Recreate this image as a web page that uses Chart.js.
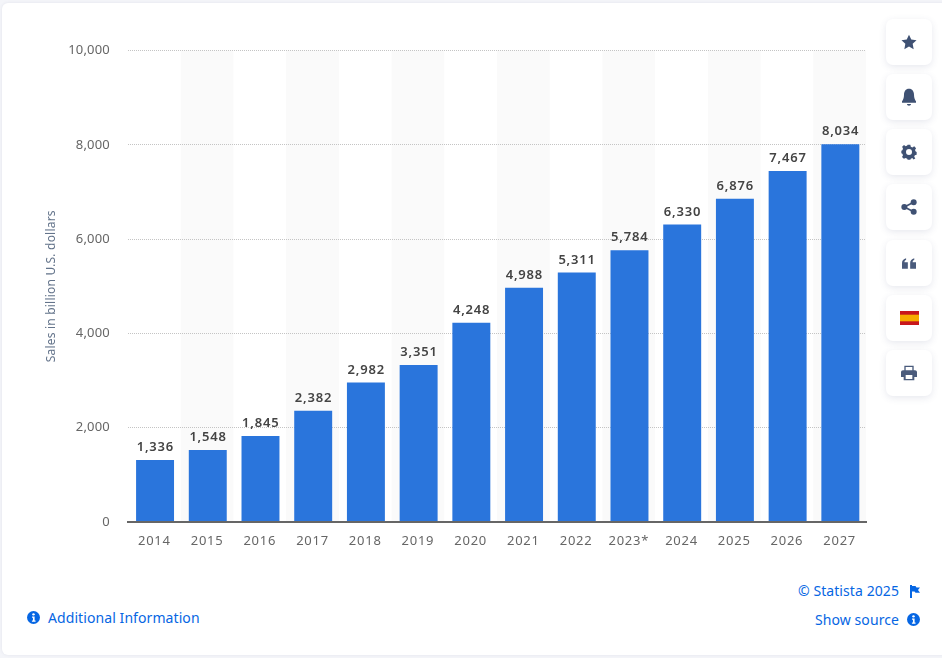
<!DOCTYPE html>
<html><head><meta charset="utf-8">
<script src="https://cdn.jsdelivr.net/npm/chart.js@4"></script>
<style>
html,body{margin:0;padding:0;width:942px;height:658px;overflow:hidden;background:#f4f5f9;font-family:"Noto Sans","Open Sans",sans-serif}
#card{position:absolute;left:2px;top:3px;width:960px;height:652px;background:#fff;border-radius:6px;box-shadow:0 0 3px rgba(100,110,140,.12)}
#wrap{position:absolute;left:0;top:0;width:880px;height:570px}
.btn{position:absolute;left:886px;width:46px;height:46px;background:#fff;border-radius:7px;box-shadow:0 2px 7px rgba(70,80,120,.13);display:flex;align-items:center;justify-content:center}
.btn svg{display:block}
.lnk{position:absolute;color:#0666e3;font-size:14px;line-height:20px;letter-spacing:.08px;white-space:nowrap}
.ic{position:absolute}
</style></head><body>
<div id="card"></div>
<div id="wrap"><canvas id="c" width="880" height="570"></canvas></div>
<div class="btn" style="top:19px"><svg width="16" height="16" viewBox="0 0 24 24"><path fill="#3f5173" d="M12 1l3.400 7.300 7.900 1-5.800 5.500 1.500 7.900L12 18.800l-7 3.900 1.500-7.900L.7 9.300l7.900-1z"/></svg></div>
<div class="btn" style="top:74px"><svg width="16" height="18" viewBox="0 0 24 27"><path fill="#3f5173" d="M12 1c5 0 7.500 4 7.500 9 0 5 1.500 8 3 10v2H1.500v-2c1.500-2 3-5 3-10 0-5 2.500-9 7.500-9zM9 24h6c0 1.500-1.300 2.500-3 2.500S9 25.500 9 24z"/></svg></div>
<div class="btn" style="top:129px"><svg width="16" height="16" viewBox="0 0 24 24"><path fill="#3f5173" fill-rule="evenodd" d="M10 1h4l.7 3.200 2.300 1 2.800-1.700 2.800 2.800L21 9l1 2.300 1.500.7v4l-2.700.7-1 2.300 1.700 2.800-2.800 1.500L17 21l-2.300 1L14 23.500h-4L9.300 22 7 21l-2.700 1.300-2.800-2.800L3 17l-1-2.300-1.500-.7v-4L2 9.300 3 7 1.700 4.300l2.800-2.800L7 3.200 9.300 2.200zM12 7.500a4.500 4.500 0 1 0 0 9 4.500 4.500 0 0 0 0-9z"/></svg></div>
<div class="btn" style="top:184px"><svg width="16" height="16" viewBox="0 0 24 24"><g fill="#3f5173"><circle cx="19" cy="5" r="4.500"/><circle cx="5" cy="12" r="4.500"/><circle cx="19" cy="19" r="4.500"/></g><path stroke="#3f5173" stroke-width="2.500" d="M19 5L5 12l14 7" fill="none"/></svg></div>
<div class="btn" style="top:240px"><svg width="14" height="11" viewBox="0 0 24 18"><path fill="#4a5b7c" d="M0 18V8c0-4 2.500-7 7-8v3C5 3.600 4.200 5 4.200 7H10v11zM14 18V8c0-4 2.500-7 7-8v3c-2 .6-2.800 2-2.800 4H24v11z"/></svg></div>
<div class="btn" style="top:295px"><svg width="19" height="14" viewBox="0 0 19 14"><rect width="19" height="14" fill="#c8171c"/><rect y="3.700" width="19" height="6.600" fill="#f6ac00"/></svg></div>
<div class="btn" style="top:350px"><svg width="16" height="16" viewBox="0 0 24 24"><path fill="#4a5b7c" fill-rule="evenodd" d="M5 1h14v7H17V3H7v5H5zM3 8h18c1.700 0 3 1.300 3 3v7h-4v5H4v-5H0v-7c0-1.700 1.300-3 3-3zM7 15v6h10v-6z"/></svg></div>

<svg class="ic" style="left:27px;top:611px" width="13" height="13" viewBox="0 0 14 14"><circle cx="7" cy="7" r="7" fill="#0666e3"/><circle cx="7" cy="3.600" r="1.300" fill="#fff"/><path fill="#fff" d="M5.400 6h2.800v4.200h1V11.500H5.300v-1.300h1.100V7.200h-1z"/></svg>
<div class="lnk" style="left:48px;top:608px">Additional Information</div>
<div class="lnk" style="right:43px;top:581px">© Statista 2025</div>
<svg class="ic" style="left:910px;top:585px" width="10" height="13" viewBox="0 0 10 13"><path fill="#0666e3" d="M0 0h2v13H0zM2 1h3.500l1 1.500H10L8 5l2 2.800H5.500l-1-1.300H2z"/></svg>
<div class="lnk" style="right:43px;top:610px">Show source</div>
<svg class="ic" style="left:907px;top:613px" width="13" height="13" viewBox="0 0 14 14"><circle cx="7" cy="7" r="7" fill="#0666e3"/><circle cx="7" cy="3.600" r="1.300" fill="#fff"/><path fill="#fff" d="M5.400 6h2.800v4.200h1V11.500H5.300v-1.300h1.100V7.200h-1z"/></svg>

<script>
const years = ["2014","2015","2016","2017","2018","2019","2020","2021","2022","2023*","2024","2025","2026","2027"];
const sales = [1336,1548,1845,2382,2982,3351,4248,4988,5311,5784,6330,6876,7467,8034];
const axisTitle = "Sales in billion U.S. dollars";
const yMax = 10000;
const yStep = 2000;

const FONT = '"Noto Sans","Open Sans",sans-serif';
const fmt = v => v.toLocaleString('en-US');

const decor = {
  id:'decor',
  beforeDraw(ch){
    const {ctx,chartArea:a,scales:{x}} = ch;
    const w = x.width / years.length;
    ctx.save(); ctx.fillStyle='#fafafa';
    years.forEach((_,i)=>{ if(i%2===1) ctx.fillRect(x.getPixelForValue(i)-w/2, a.top, w, a.bottom-a.top); });
    ctx.restore();
    ctx.letterSpacing='0.2px';
  },
  beforeDatasetsDraw(ch){
    ch.ctx.save();
    ch.ctx.translate(0.7,1);
  },
  afterDatasetsDraw(ch){
    const {ctx} = ch;
    ctx.restore();
    ctx.save();
    ctx.letterSpacing='0.8px';
    ctx.font='600 13px '+FONT; ctx.fillStyle='#444';
    ctx.textAlign='center'; ctx.textBaseline='bottom';
    ch.getDatasetMeta(0).data.forEach((b,i)=>ctx.fillText(fmt(sales[i]), b.x+1, b.y-5));
    ctx.restore();
    ctx.letterSpacing='0.75px';
  }
};
new Chart(document.getElementById('c'),{
  type:'bar',
  data:{labels:years,datasets:[{data:sales,backgroundColor:'#2a75dc',borderWidth:0,barPercentage:.72,categoryPercentage:1}]},
  plugins:[decor],
  options:{
    responsive:false,animation:false,devicePixelRatio:1,
    layout:{padding:{left:44,top:50.5,right:14,bottom:0}},
    plugins:{legend:{display:false},tooltip:{enabled:false},title:{display:false}},
    scales:{
      x:{
        grid:{display:false},
        border:{color:'#666',width:2,z:1},
        ticks:{color:'#666',font:{family:FONT,size:13},padding:3,maxRotation:0,autoSkip:false,z:1},
        afterFit(s){s.height=570-522;}
      },
      y:{
        min:0,max:yMax,
        ticks:{stepSize:yStep,color:'#666',font:{family:FONT,size:13},padding:18,z:0,callback:v=>fmt(v)},
        grid:{color:'#c4c4c4',drawTicks:false,lineWidth:1},
        border:{display:false,dash:[1,1]},
        title:{display:true,text:axisTitle,color:'#64748b',font:{family:FONT,size:12},padding:0},
        afterFit(s){s.width=128-44;}
      }
    }
  }
});
</script>
</body></html>
